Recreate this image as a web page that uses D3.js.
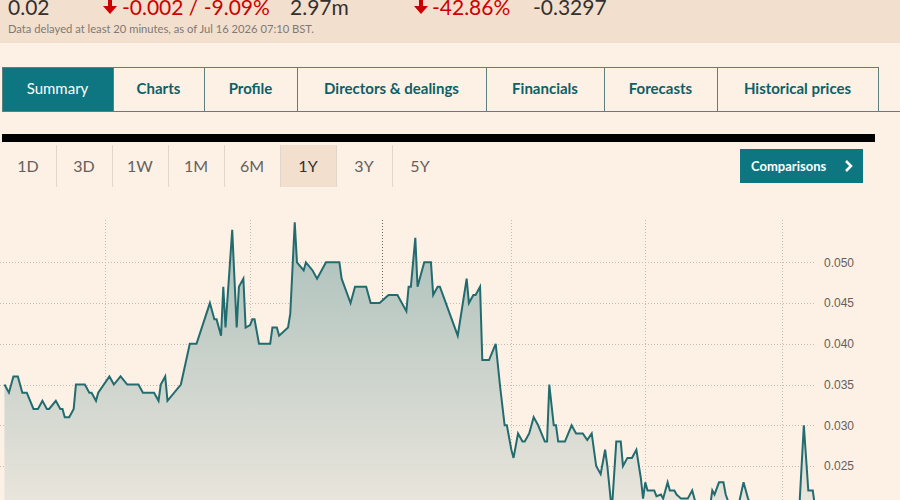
<!DOCTYPE html>
<html>
<head>
<meta charset="utf-8">
<title>1Y price chart | D3</title>
<script src="https://d3js.org/d3.v7.min.js" charset="utf-8"></script>
<style>
    body {
        margin: 0;
        background: #fdf1e6;
    }
    svg {
        display: block;
        font-family: "Lato", "Open Sans", sans-serif;
    }
</style>
</head>
<body>
<script>
// quote strip values
var quotePrice = "0.02";
var quoteChange = "-0.002 / -9.09%";
var quoteVolume = "2.97m";
var quoteYearChange = "-42.86%";
var quoteBeta = "-0.3297";
var delayNote = "Data delayed at least 20 minutes, as of Jul 16 2026 07:10 BST.";

// nav tabs and range buttons
var tabLabels = ["Summary", "Charts", "Profile", "Directors & dealings", "Financials", "Forecasts", "Historical prices"];
var tabWidths = [111, 91, 93, 189, 118, 113, 161];
var rangeLabels = ["1D", "3D", "1W", "1M", "6M", "1Y", "3Y", "5Y"];
var selectedRange = "1Y";

// price series
var dates = [
    "2025-07-18","2025-07-20","2025-07-22","2025-07-24","2025-07-26","2025-07-28","2025-07-31",
    "2025-08-02","2025-08-04","2025-08-06","2025-08-07","2025-08-10","2025-08-12","2025-08-13",
    "2025-08-14","2025-08-16","2025-08-18","2025-08-19","2025-08-23","2025-08-25","2025-08-26",
    "2025-08-28","2025-08-29","2025-09-03","2025-09-05","2025-09-08","2025-09-11","2025-09-16",
    "2025-09-18","2025-09-23","2025-09-25","2025-09-26","2025-09-28","2025-09-29","2025-10-05",
    "2025-10-09","2025-10-12","2025-10-18","2025-10-20","2025-10-21","2025-10-23","2025-10-24",
    "2025-10-25","2025-10-28","2025-10-30","2025-10-31","2025-11-02","2025-11-03","2025-11-05",
    "2025-11-06","2025-11-07","2025-11-09","2025-11-14","2025-11-15","2025-11-17","2025-11-18",
    "2025-11-22","2025-11-23","2025-11-25","2025-11-26","2025-11-29","2025-11-30","2025-12-03",
    "2025-12-05","2025-12-07","2025-12-09","2025-12-15","2025-12-16","2025-12-20","2025-12-22",
    "2025-12-27","2025-12-29","2026-01-02","2026-01-06","2026-01-10","2026-01-14","2026-01-15",
    "2026-01-16","2026-01-18","2026-01-19","2026-01-22","2026-01-25","2026-01-26","2026-01-28",
    "2026-01-29","2026-02-06","2026-02-10","2026-02-11","2026-02-13","2026-02-14","2026-02-16",
    "2026-02-17","2026-02-20","2026-02-23","2026-02-25","2026-02-27","2026-02-28","2026-03-02",
    "2026-03-03","2026-03-05","2026-03-07","2026-03-08","2026-03-10","2026-03-12","2026-03-14",
    "2026-03-17","2026-03-18","2026-03-19","2026-03-21","2026-03-22","2026-03-23","2026-03-26",
    "2026-03-29","2026-03-31","2026-04-03","2026-04-05","2026-04-07","2026-04-09","2026-04-11",
    "2026-04-13","2026-04-14","2026-04-16","2026-04-18","2026-04-20","2026-04-21","2026-04-23",
    "2026-04-25","2026-04-27","2026-04-29","2026-04-30","2026-05-01","2026-05-02","2026-05-05",
    "2026-05-06","2026-05-08","2026-05-09","2026-05-11","2026-05-12","2026-05-14","2026-05-15",
    "2026-05-17","2026-05-20","2026-05-22","2026-05-24","2026-05-27","2026-05-30","2026-05-31",
    "2026-06-01","2026-06-03","2026-06-05","2026-06-06","2026-06-08","2026-06-11","2026-06-12",
    "2026-06-14","2026-06-16","2026-06-18","2026-06-22","2026-06-27","2026-07-03","2026-07-07",
    "2026-07-09","2026-07-11","2026-07-13","2026-07-15","2026-07-16"
];
var prices = [
    0.035,0.034,0.036,0.036,0.034,0.034,0.032,
    0.032,0.033,0.032,0.032,0.033,0.032,0.032,
    0.031,0.031,0.032,0.035,0.035,0.034,0.034,
    0.033,0.034,0.036,0.035,0.036,0.035,0.035,
    0.034,0.034,0.033,0.035,0.036,0.033,0.035,
    0.040,0.040,0.045,0.043,0.043,0.041,0.047,
    0.042,0.054,0.042,0.047,0.048,0.042,0.0423,
    0.043,0.043,0.040,0.040,0.042,0.042,0.041,
    0.042,0.0437,0.0549,0.050,0.049,0.050,0.049,
    0.048,0.049,0.050,0.050,0.048,0.045,0.047,
    0.047,0.045,0.045,0.046,0.046,0.044,0.047,
    0.047,0.053,0.047,0.050,0.050,0.046,0.047,
    0.047,0.041,0.048,0.045,0.046,0.046,0.047,
    0.038,0.038,0.040,0.0347,0.030,0.030,0.027,
    0.026,0.029,0.028,0.028,0.029,0.031,0.030,
    0.028,0.028,0.035,0.030,0.030,0.028,0.028,
    0.030,0.029,0.029,0.0282,0.029,0.025,0.024,
    0.027,0.025,0.0195,0.028,0.028,0.025,0.026,
    0.026,0.027,0.0235,0.021,0.023,0.022,0.022,
    0.0213,0.0215,0.021,0.023,0.022,0.022,0.0215,
    0.021,0.021,0.022,0.020,0.0195,0.020,0.022,
    0.0215,0.023,0.023,0.0215,0.020,0.020,0.0205,
    0.023,0.021,0.020,0.0195,0.020,0.0195,0.020,
    0.020,0.030,0.022,0.022,0.020
];
var gridDates = ["2025-09-01", "2025-11-05", "2026-01-03", "2026-03-02", "2026-05-01", "2026-07-01"];
var yearBoundary = "2026-01-03";
var yTicks = [0.020, 0.025, 0.030, 0.035, 0.040, 0.045, 0.050];

var width = 900;
var height = 500;
var parseDate = d3.timeParse("%Y-%m-%d");

var series = dates.map(function(d, i) {
    return {date: parseDate(d), price: prices[i]};
});

var svg = d3.select("body")
    .append("svg")
    .attr("width", width)
    .attr("height", height);

// --- quote strip (scrolled, so the top row is clipped as in the page) ---
svg.append("rect")
    .attr("x", 0).attr("y", 0)
    .attr("width", width).attr("height", 43)
    .attr("fill", "#f2dfce");

function downArrow(x) {
    svg.append("path")
        .attr("d", "M" + (x + 5) + ",0 h4 v6 h5 l-7,8 l-7,-8 h5 z")
        .attr("fill", "#cc0000");
}

var quoteTexts = [
    {x: 8, text: quotePrice, color: "#33302e"},
    {x: 122, text: quoteChange, color: "#cc0000"},
    {x: 290, text: quoteVolume, color: "#33302e"},
    {x: 432, text: quoteYearChange, color: "#cc0000"},
    {x: 533, text: quoteBeta, color: "#33302e"}
];
svg.selectAll("text.quote")
    .data(quoteTexts)
    .enter()
    .append("text")
    .attr("class", "quote")
    .attr("x", function(d) { return d.x; })
    .attr("y", 15)
    .attr("font-size", 21)
    .attr("fill", function(d) { return d.color; })
    .text(function(d) { return d.text; });
downArrow(103);
downArrow(414);

svg.append("text")
    .attr("x", 8).attr("y", 33)
    .attr("font-size", 11.2)
    .attr("fill", "#807973")
    .text(delayNote);

// --- tabs ---
var tabTop = 67, tabH = 44;
var tabX = [2];
tabWidths.forEach(function(w, i) { tabX.push(tabX[i] + w); });

var tabs = svg.selectAll("g.tab")
    .data(tabLabels)
    .enter()
    .append("g")
    .attr("class", "tab");
tabs.append("rect")
    .attr("x", function(d, i) { return tabX[i] + 0.5; })
    .attr("y", tabTop + 0.5)
    .attr("width", function(d, i) { return tabWidths[i]; })
    .attr("height", tabH)
    .attr("fill", function(d, i) { return i === 0 ? "#0d7680" : "#fdf1e6"; })
    .attr("stroke", "#5e7f80")
    .attr("stroke-width", 1);
tabs.append("text")
    .attr("x", function(d, i) { return tabX[i] + tabWidths[i] / 2; })
    .attr("y", tabTop + 27)
    .attr("text-anchor", "middle")
    .attr("font-size", 15)
    .attr("font-weight", function(d, i) { return i === 0 ? 400 : 700; })
    .attr("fill", function(d, i) { return i === 0 ? "#ffffff" : "#0f5f66"; })
    .text(function(d) { return d; });
svg.append("line")
    .attr("x1", tabX[tabX.length - 1]).attr("x2", width)
    .attr("y1", tabTop + tabH + 0.5).attr("y2", tabTop + tabH + 0.5)
    .attr("stroke", "#5e7f80");

// black rule
svg.append("rect")
    .attr("x", 2).attr("y", 134)
    .attr("width", 873).attr("height", 8)
    .attr("fill", "#000000");

// --- range buttons ---
var btnW = 56;
var ranges = svg.selectAll("g.range")
    .data(rangeLabels)
    .enter()
    .append("g")
    .attr("class", "range");
ranges.append("rect")
    .attr("x", function(d, i) { return i * btnW + 1; })
    .attr("y", 145)
    .attr("width", btnW - 1)
    .attr("height", 42)
    .attr("fill", function(d) { return d === selectedRange ? "#f2dfce" : "none"; });
ranges.filter(function(d, i) { return i > 0; })
    .append("line")
    .attr("x1", function(d, i) { return (i + 1) * btnW + 0.5; })
    .attr("x2", function(d, i) { return (i + 1) * btnW + 0.5; })
    .attr("y1", 145).attr("y2", 187)
    .attr("stroke", "#e3d5c9");
ranges.append("text")
    .attr("x", function(d, i) { return i * btnW + btnW / 2; })
    .attr("y", 172)
    .attr("text-anchor", "middle")
    .attr("font-size", 16)
    .attr("fill", function(d) { return d === selectedRange ? "#33302e" : "#66605c"; })
    .text(function(d) { return d; });

// comparisons button
svg.append("rect")
    .attr("x", 740).attr("y", 149)
    .attr("width", 123).attr("height", 34)
    .attr("fill", "#0d7680");
svg.append("text")
    .attr("x", 751).attr("y", 171)
    .attr("font-size", 13)
    .attr("font-weight", 700)
    .attr("fill", "#ffffff")
    .text("Comparisons");
svg.append("path")
    .attr("d", "M846,161 L851,166 L846,171")
    .attr("fill", "none")
    .attr("stroke", "#ffffff")
    .attr("stroke-width", 2.5);

// --- chart ---
var x = d3.scaleTime()
    .domain([parseDate("2025-07-16"), parseDate("2026-07-16")])
    .range([0, 815]);
var y = d3.scaleLinear()
    .domain([0.015, 0.055])
    .range([547.5, 221.6]);

var defs = svg.append("defs");
var grad = defs.append("linearGradient")
    .attr("id", "areaFill")
    .attr("gradientUnits", "userSpaceOnUse")
    .attr("x1", 0).attr("x2", 0)
    .attr("y1", y(0.055)).attr("y2", y(0.015));
grad.append("stop").attr("offset", "0%").attr("stop-color", "#aabfba");
grad.append("stop").attr("offset", "100%").attr("stop-color", "#f3ebe1");

var chart = svg.append("g");

// horizontal grid
chart.selectAll("line.hgrid")
    .data(yTicks)
    .enter()
    .append("line")
    .attr("class", "hgrid")
    .attr("x1", 0).attr("x2", 815)
    .attr("y1", function(d) { return Math.round(y(d)) + 0.5; })
    .attr("y2", function(d) { return Math.round(y(d)) + 0.5; })
    .attr("stroke", "#c9bdb3")
    .attr("stroke-dasharray", "1,2");

// vertical grid
chart.selectAll("line.vgrid")
    .data(gridDates)
    .enter()
    .append("line")
    .attr("class", "vgrid")
    .attr("x1", function(d) { return Math.round(x(parseDate(d))) + 0.5; })
    .attr("x2", function(d) { return Math.round(x(parseDate(d))) + 0.5; })
    .attr("y1", 220).attr("y2", height)
    .attr("stroke", function(d) { return d === yearBoundary ? "#6f6660" : "#c9bdb3"; })
    .attr("stroke-dasharray", "1,2");

var area = d3.area()
    .x(function(d) { return x(d.date); })
    .y0(y(0.015))
    .y1(function(d) { return y(d.price); });
var line = d3.line()
    .x(function(d) { return x(d.date); })
    .y(function(d) { return y(d.price); });

chart.append("path")
    .datum(series)
    .attr("d", area)
    .attr("fill", "url(#areaFill)");
chart.append("path")
    .datum(series)
    .attr("d", line)
    .attr("fill", "none")
    .attr("stroke", "#226c6f")
    .attr("stroke-width", 2);

// y labels on the right
var yAxis = d3.axisRight(y)
    .tickValues(yTicks)
    .tickSize(0)
    .tickPadding(0)
    .tickFormat(d3.format(".3f"));
chart.append("g")
    .attr("transform", "translate(824,0)")
    .call(yAxis)
    .call(function(g) { g.select(".domain").remove(); })
    .selectAll("text")
    .attr("font-family", "'Liberation Sans', Arial, sans-serif")
    .attr("font-size", 12)
    .attr("fill", "#66605c");
</script>
</body>
</html>
